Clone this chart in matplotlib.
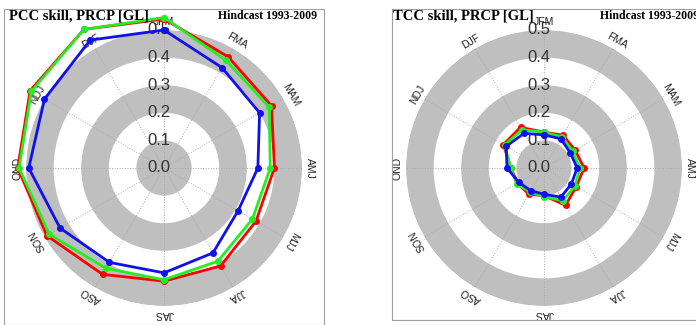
#!/usr/bin/env python3

"""Polar skill diagrams (PCC / TCC) of seasonal precipitation hindcasts."""

import numpy as np
import matplotlib
matplotlib.use('Agg')
import matplotlib.pyplot as plt
from matplotlib import transforms
from matplotlib.patches import Rectangle

SEASONS = ['JFM', 'FMA', 'MAM', 'AMJ', 'MJJ', 'JJA',
           'JAS', 'ASO', 'SON', 'OND', 'NDJ', 'DJF']
R_TICKS = [0.0, 0.1, 0.2, 0.3, 0.4, 0.5]

# PCC skill (left panel)
PCC_RED = [0.54, 0.465, 0.45, 0.40, 0.385, 0.41, 0.41, 0.445, 0.49, 0.53, 0.56, 0.58]
PCC_GREEN = [0.545, 0.45, 0.44, 0.385, 0.37, 0.39, 0.405, 0.42, 0.48, 0.525, 0.555, 0.58]
PCC_BLUE = [0.50, 0.42, 0.40, 0.34, 0.31, 0.355, 0.38, 0.395, 0.435, 0.49, 0.50, 0.535]

# TCC skill (right panel)
TCC_RED = [0.13, 0.137, 0.13, 0.145, 0.135, 0.156, 0.10, 0.11, 0.11, 0.12, 0.17, 0.17]
TCC_GREEN = [0.13, 0.13, 0.12, 0.13, 0.13, 0.137, 0.104, 0.10, 0.115, 0.12, 0.165, 0.16]
TCC_BLUE = [0.12, 0.122, 0.11, 0.12, 0.115, 0.122, 0.095, 0.095, 0.105, 0.134, 0.158, 0.145]

W, H = 696, 325
SANS = ['Liberation Sans', 'DejaVu Sans']
SERIF = ['Liberation Serif', 'DejaVu Serif']


def skill_panel(fig, cx, cy, series):
    """draw one polar skill diagram centred on pixel (cx, cy)"""
    rad = 138
    ax = fig.add_axes([(cx - rad) / W, (H - cy - rad) / H, 2 * rad / W, 2 * rad / H],
                      projection='polar')
    ax.set_theta_zero_location('N')
    ax.set_theta_direction(-1)
    ax.set_ylim(0, 0.5)
    ax.spines['polar'].set_visible(False)
    # alternating grey / white rings
    for i in range(len(R_TICKS) - 1):
        if i % 2 == 0:
            ax.bar(0, R_TICKS[i + 1] - R_TICKS[i], width=2 * np.pi, bottom=R_TICKS[i],
                   color='#bfbfbf', edgecolor='none', zorder=0)
    angles = np.arange(len(SEASONS)) * 2 * np.pi / len(SEASONS)
    ax.set_xticks(angles)
    ax.set_xticklabels([''] * len(SEASONS))
    ax.set_yticks(R_TICKS)
    ax.set_yticklabels([])
    ax.xaxis.grid(True, linestyle=':', color='#a8a8a8', linewidth=0.7)
    ax.yaxis.grid(False)
    ax.set_axisbelow(False)
    # radial labels along the top spoke
    shift = transforms.offset_copy(ax.transData, fig=fig, x=-5, y=0, units='dots')
    for r in R_TICKS:
        ax.text(0, r, f'{r:.1f}', transform=shift, ha='center', va='center',
                fontsize=12, family=SANS, color='#333333', zorder=3)
    # season labels, rotated tangentially
    for ang, lab in zip(angles, SEASONS):
        ax.text(ang, 0.53, lab, ha='center', va='center', fontsize=7.5, family=SANS,
                rotation=-np.degrees(ang), rotation_mode='anchor', color='#222222',
                clip_on=False)
    closed = np.append(angles, angles[0])
    for vals, col in series:
        v = np.append(vals, vals[0])
        ax.plot(closed, v, color=col, linewidth=2, marker='o', markersize=4,
                clip_on=False, zorder=4)
    return ax


fig = plt.figure(figsize=(W / 100, H / 100), dpi=100)
fig.add_artist(Rectangle((4 / W, 0), 320 / W, (H - 9) / H, transform=fig.transFigure,
                         fill=False, edgecolor='#a0a0a0', linewidth=0.8))
fig.add_artist(Rectangle((392 / W, 5 / H), 310 / W, (H - 9 - 5) / H, transform=fig.transFigure,
                         fill=False, edgecolor='#a0a0a0', linewidth=0.8))

skill_panel(fig, 164, 168, [(PCC_RED, '#ff0000'), (PCC_GREEN, '#22ee22'), (PCC_BLUE, '#1010ee')])
skill_panel(fig, 544, 168, [(TCC_RED, '#ff0000'), (TCC_GREEN, '#22ee22'), (TCC_BLUE, '#1010ee')])

fig.text(9 / W, 1 - 16 / H, 'PCC skill, PRCP [GL]', family=SERIF, weight='bold',
         fontsize=10.5, va='center', ha='left')
fig.text(218 / W, 1 - 16 / H, 'Hindcast 1993-2009', family=SERIF, weight='bold',
         fontsize=8.5, va='center', ha='left')
fig.text(393 / W, 1 - 16 / H, 'TCC skill, PRCP [GL]', family=SERIF, weight='bold',
         fontsize=10.5, va='center', ha='left')
fig.text(600 / W, 1 - 16 / H, 'Hindcast 1993-2009', family=SERIF, weight='bold',
         fontsize=8.5, va='center', ha='left')

plt.savefig('out.png', dpi=100)
